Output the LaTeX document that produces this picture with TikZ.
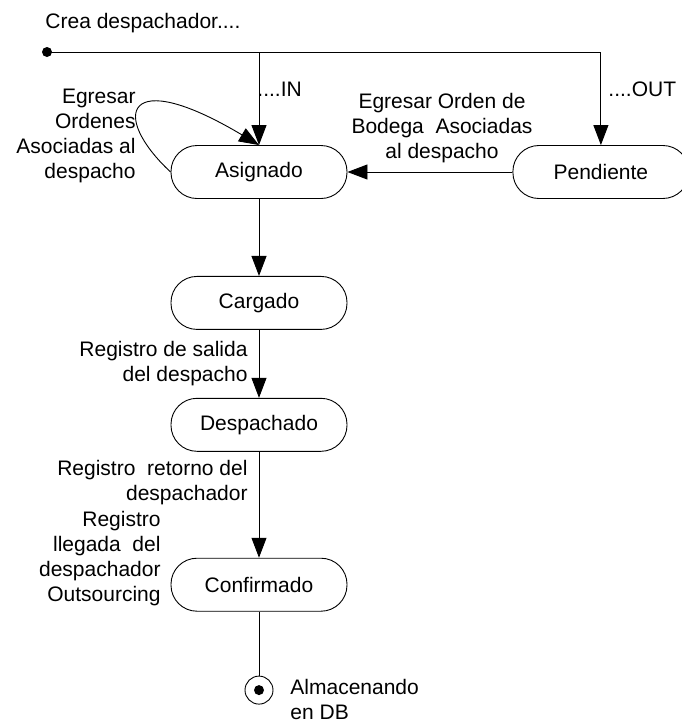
\documentclass[tikz,border=0pt]{standalone}
\usepackage{fontspec}
\setmainfont{Liberation Sans}
\usetikzlibrary{arrows.meta,positioning}

\begin{document}
\begin{tikzpicture}[
        %Environment Cfg.
        x=1pt, y=-1pt,
        font=\fontsize{21}{25}\selectfont,
        >={Triangle[length=20pt,width=15pt]},%from arrows.meta
        line width=0.9pt,
        %Environment Styles.
        sBox/.style={
            rectangle,
            minimum height=53pt,
            minimum width=176pt,
            rounded corners=26pt,
            draw=black,
            fill=white
        },
        tLbl/.style={
            inner sep=0pt,
            text=black
        },
    ]
    \useasboundingbox (0,0) rectangle (682,724);

    %States.
    \node[sBox] (asig) at (259,172) {Asignado};
    \node[sBox, right = 165pt of asig] (pend) {Pendiente};
    \node[sBox, below = 77pt of asig] (carg) {Cargado};
    \node[sBox, below = 68pt of carg] (desp) {Despachado};
    \node[sBox, below = 106pt of desp] (conf) {Confirmado};
    \node[circle, draw, minimum size=28pt, inner sep=0pt, below = 64pt of conf] (fin) {};
    \fill (fin.center) circle (5pt);

    %Start point.
    \node[circle, fill, inner sep=0pt, minimum size=10pt] (ini) at (47,52) {};
    \coordinate (jIN) at (ini.center -| asig.north);

    %Transitions.
    \draw[->] (ini.center) -| (pend.north);
    \draw[->] (jIN) -- (asig.north);
    \draw[->] (asig.west) .. controls +(-61,-57) and +(-134,-80) .. (asig.north);
    \draw[->] (pend) -- (asig);
    \draw[->] (asig) -- (carg);
    \draw[->] (carg) -- (desp);
    \draw[->] (desp) -- (conf);
    \draw (conf) -- (fin);

    %Labels.
    \node[tLbl, anchor=west] (lCrea) at (45,23) {Crea despachador....};
    \node[tLbl, anchor=west] (lIN) at (257,89) {....IN};
    \node[tLbl, anchor=west] (lOUT) at (608,89) {....OUT};
    \node[tLbl, anchor=east, align=right] (lLoop) at (136,136)
        {Egresar\\Ordenes\\Asociadas al\\despacho};
    \node[tLbl, align=center] (lPend) at (442,128)
        {Egresar Orden de\\Bodega\ \ Asociadas\\al despacho};
    \node[tLbl, anchor=east, align=right] (lSal) at (248,364)
        {Registro de salida\\del despacho};
    \node[tLbl, anchor=east, align=right] (lRet) at (248,483)
        {Registro\ \ retorno del\\despachador};
    \node[tLbl, anchor=east, align=right] (lLleg) at (161,559)
        {Registro\\llegada\ \ del\\despachador\\Outsourcing};
    \node[tLbl, anchor=west, align=left] (lFin) at (290,699)
        {Almacenando\\en DB};

\end{tikzpicture}
\end{document}
